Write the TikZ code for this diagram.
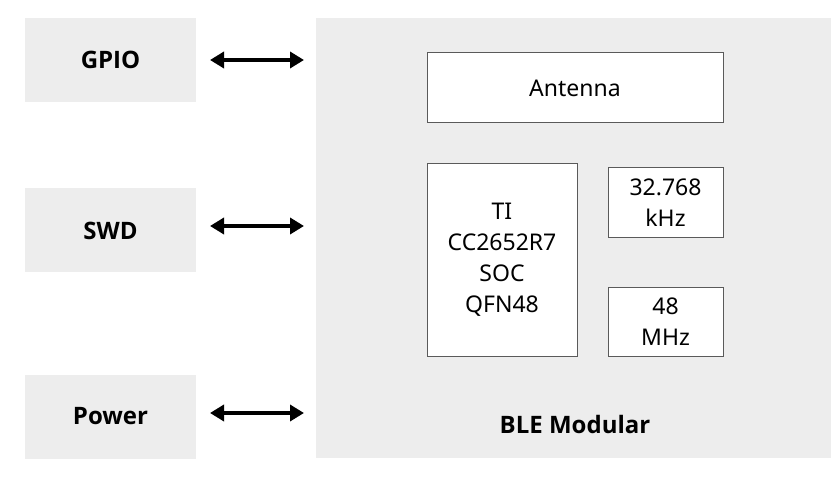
\documentclass[tikz,border=0pt]{standalone}
\usepackage{fontspec}
\setmainfont{Noto Sans}
\newfontfamily\hb{Open Sans}
\usetikzlibrary{arrows.meta}
\definecolor{panel}{HTML}{EDEDED}
\definecolor{edge}{HTML}{5A5A5A}
\begin{document}
\begin{tikzpicture}[x=1pt,y=-1pt,
  side/.style={fill=panel,draw=none,minimum width=171pt,minimum height=84pt,inner sep=0pt,font=\hb\fontsize{24}{28}\selectfont\bfseries},
  part/.style={fill=white,draw=edge,line width=1pt,inner sep=0pt,align=center,font=\fontsize{23}{31}\selectfont},
  link/.style={line width=4.5pt,{Triangle[length=14pt,width=16pt]}-{Triangle[length=14pt,width=16pt]}}]
\useasboundingbox (0,0) rectangle (831,484);
\fill[panel] (316,18) rectangle (831,458);
\node[side] (gpio) at (110.5,60) {GPIO};
\node[side] (swd) at (110.5,230.5) {SWD};
\node[side] (pwr) at (110.5,416.5) {Power};
\coordinate (ga) at (210,60); \coordinate (gb) at (304,60);
\coordinate (sa) at (210,226); \coordinate (sb) at (304,226);
\coordinate (pa) at (210,413); \coordinate (pb) at (304,413);
\draw[link] (ga) -- (gb);
\draw[link] (sa) -- (sb);
\draw[link] (pa) -- (pb);
\node[part,minimum width=296pt,minimum height=70pt] (ant) at (575,88) {Antenna};
\node[part,minimum width=150pt,minimum height=192pt] (soc) at (502,260) {TI\\CC2652R7\\SOC\\QFN48};
\node[part,minimum width=115pt,minimum height=70pt] (k32) at (665.5,203) {32.768\\kHz};
\node[part,minimum width=115pt,minimum height=69pt] (m48) at (665.5,321.5) {48\\MHz};
\node[font=\hb\fontsize{24}{28}\selectfont\bfseries] (ble) at (575,424) {BLE Modular};
\end{tikzpicture}
\end{document}
